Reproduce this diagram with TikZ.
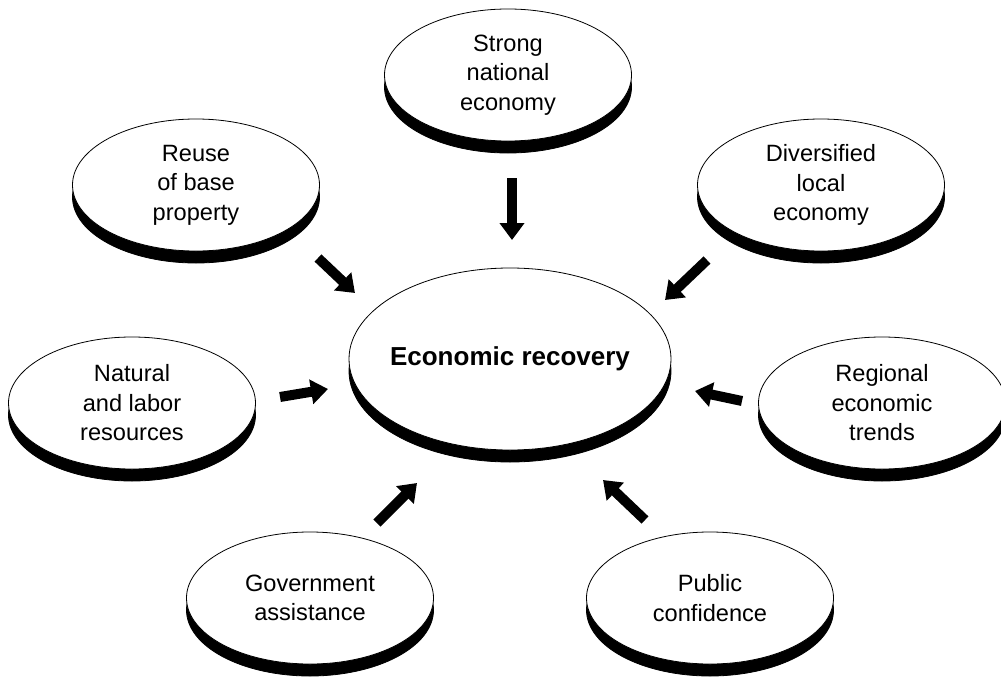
\documentclass[tikz,border=0pt]{standalone}
\usepackage{fontspec}
\setmainfont{Liberation Sans}
\usetikzlibrary{shapes.geometric,shadows,arrows.meta}
\begin{document}
\begin{tikzpicture}[x=1pt,y=-1pt,
  disc/.style={ellipse, draw=black, line width=0.8pt, fill=white, inner sep=0pt,
    minimum width=247pt, minimum height=132pt, align=center,
    font=\fontsize{23.6}{29.5}\selectfont,
    general shadow={fill=black, draw=black, shadow yshift=-12pt}},
  bigdisc/.style={disc, minimum width=322pt, minimum height=182pt,
    font=\fontsize{26}{31}\selectfont\bfseries},
  push/.style={line width=10pt, line cap=butt, -{Triangle[width=24pt,length=17pt]}}]
\useasboundingbox (0,0) rectangle (1001,680);

\node[bigdisc] (rec) at (510,359) {\makebox[0pt]{Economic recovery}};
\node[disc] (strong) at (508,75) {Strong\\national\\economy};
\node[disc] (reuse) at (196,185) {Reuse\\of base\\property};
\node[disc] (div) at (821,185) {Diversified\\local\\economy};
\node[disc] (nat) at (132,403) {Natural\\and labor\\resources};
\node[disc] (reg) at (882,403) {Regional\\economic\\trends};
\node[disc] (gov) at (310,598) {Government\\assistance};
\node[disc] (pub) at (710,598) {Public\\confidence};

\coordinate (strongS) at (512,178); \coordinate (strongT) at (512,240);
\coordinate (reuseS) at (318,258);  \coordinate (reuseT) at (355,293);
\coordinate (divS) at (707,260);    \coordinate (divT) at (665,300);
\coordinate (natS) at (280,397);    \coordinate (natT) at (328,389);
\coordinate (regS) at (742,401);    \coordinate (regT) at (695,391);
\coordinate (govS) at (377,523);    \coordinate (govT) at (417,483);
\coordinate (pubS) at (645,520);    \coordinate (pubT) at (603,480);

\draw[push] (strongS) -- (strongT);
\draw[push] (reuseS) -- (reuseT);
\draw[push] (divS) -- (divT);
\draw[push] (natS) -- (natT);
\draw[push] (regS) -- (regT);
\draw[push] (govS) -- (govT);
\draw[push] (pubS) -- (pubT);
\end{tikzpicture}
\end{document}
